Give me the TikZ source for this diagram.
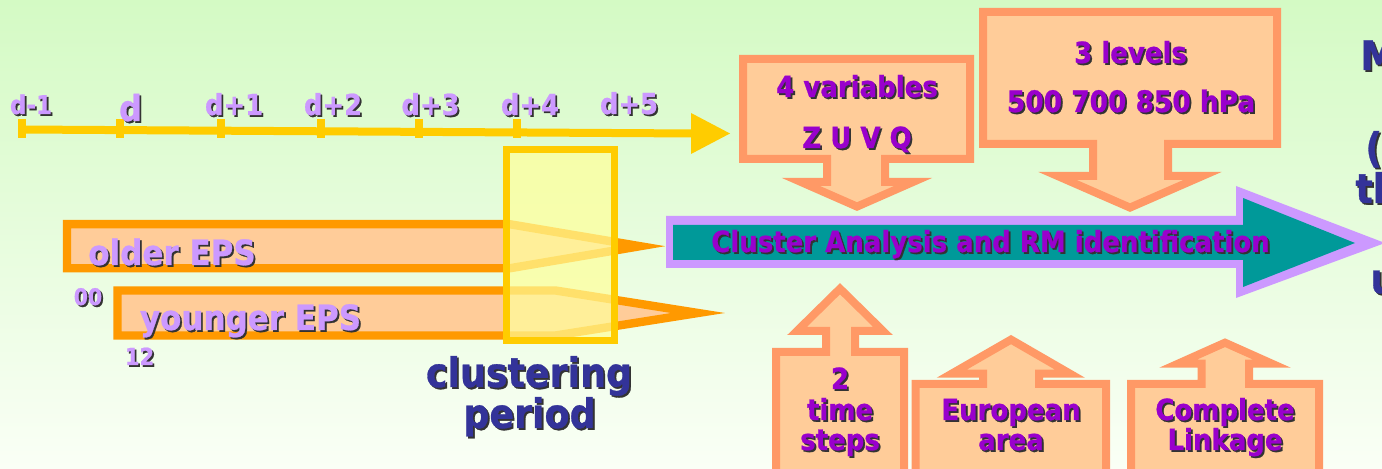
\documentclass[tikz,border=0pt]{standalone}
\usepackage{fontspec}
\setmainfont{DejaVu Sans}[BoldFeatures={FakeBold=0.8}]
\definecolor{bgtop}{RGB}{212,250,196}
\definecolor{bgbot}{RGB}{250,255,246}
\definecolor{tyellow}{HTML}{FFCC00}
\definecolor{eorange}{HTML}{FF9900}
\definecolor{peach}{HTML}{FFCC99}
\definecolor{salmon}{HTML}{FF9966}
\definecolor{lav}{HTML}{CC99FF}
\definecolor{teal2}{HTML}{009999}
\definecolor{purp}{HTML}{9900CC}
\definecolor{dblue}{HTML}{333399}
\definecolor{lyellow}{HTML}{FFFF99}
\newcommand\fsz[1]{\fontsize{#1pt}{#1pt}\selectfont\bfseries}
\newcommand\stext[7]{%
  \node[anchor=#6, inner sep=0pt, text=black!80, font=\fsz{#5}] at (#2+1.8,#3+1.8) {\scalebox{1}[1.12]{#7}};
  \node[anchor=#6, inner sep=0pt, text=#4, font=\fsz{#5}] (#1) at (#2,#3) {\scalebox{1}[1.12]{#7}};}
\begin{document}
\begin{tikzpicture}[x=0.5pt,y=-0.5pt,
  callout/.style={draw=salmon, fill=peach, line width=4pt, line join=miter},
  eps/.style={draw=eorange, fill=peach, line width=4.2pt, line join=miter},
  tick/.style={draw=tyellow, line width=3.8pt}]
\useasboundingbox (0,0) rectangle (1382,469);
\shade[top color=bgtop, bottom color=bgbot] (0,0) rectangle (1382,469);

% timeline
\draw[tyellow, line width=4pt] (19,129.5) -- (695,133.5);
\fill[tyellow] (691,113) -- (730,133.5) -- (691,154) -- cycle;
\foreach \x in {22,120,221,321,419,517} \draw[tick] (\x,119) -- (\x,138);

% EPS arrows
\draw[eps] (67,224.2) -- (509.6,224.2) -- (640,246.2) -- (509.6,268.3) -- (67,268.3) -- cycle;
\draw[eps] (117.5,290.5) -- (555.5,290.5) -- (698,313) -- (555.5,335.5) -- (117.5,335.5) -- cycle;

% clustering period window
\draw[draw=tyellow, line width=3.5pt, fill=lyellow, fill opacity=0.7] (506.5,150) rectangle (614,341);

% big arrow
\fill[lav] (666,216) -- (1236,216) -- (1236,186) -- (1385,243) -- (1236,298) -- (1236,268) -- (666,268) -- cycle;
\fill[teal2] (673,225) -- (1243,225) -- (1243,198) -- (1355,243) -- (1243,287) -- (1243,260) -- (673,260) -- cycle;

% down callouts
\draw[callout] (743,59) -- (970,59) -- (970,159) -- (885,159) -- (885,182) -- (913,182) -- (857,206.6) -- (801,182) -- (827,182) -- (827,159) -- (743,159) -- cycle;
\draw[callout] (983,12) -- (1277,12) -- (1277,144) -- (1168,144) -- (1168,176) -- (1202.4,176) -- (1130,207.6) -- (1057.6,176) -- (1093,176) -- (1093,144) -- (983,144) -- cycle;

% up callouts
\draw[callout] (776,480) -- (776,352) -- (826,352) -- (826,331) -- (797,331) -- (840,288.7) -- (883,331) -- (855,331) -- (855,352) -- (904,352) -- (904,480) -- cycle;
\draw[callout] (915.7,480) -- (915.7,384) -- (983,384) -- (983,373.7) -- (951.7,373.7) -- (1011,339.6) -- (1070,373.7) -- (1039,373.7) -- (1039,384) -- (1106,384) -- (1106,480) -- cycle;
\draw[callout] (1131,480) -- (1131,384) -- (1201.5,384) -- (1201.5,363.7) -- (1178,363.7) -- (1225,342.7) -- (1272,363.7) -- (1249,363.7) -- (1249,384) -- (1319,384) -- (1319,480) -- cycle;

% texts
\stext{t0}{31}{114}{lav}{11.5}{base}{d-1}
\stext{t1}{130.5}{121}{lav}{16}{base}{d}
\stext{t2}{234}{115}{lav}{12.9}{base}{d+1}
\stext{t3}{333}{115}{lav}{12.9}{base}{d+2}
\stext{t4}{430.5}{115}{lav}{12.9}{base}{d+3}
\stext{t5}{530}{115}{lav}{12.9}{base}{d+4}
\stext{t6}{629}{114}{lav}{12.9}{base}{d+5}
\stext{older}{172}{265}{lav}{15.5}{base}{older EPS}
\stext{younger}{250.5}{330}{lav}{15.5}{base}{younger EPS}
\stext{h00}{88}{305}{lav}{10.2}{base}{00}
\stext{h12}{139.5}{365}{lav}{10.5}{base}{12}
\stext{clu}{529}{387}{dblue}{18.2}{base}{clustering}
\stext{per}{529.5}{428}{dblue}{18.2}{base}{period}
\stext{var}{857}{97}{purp}{13}{base}{4 variables}
\stext{zuvq}{857}{148}{purp}{13}{base}{Z U V Q}
\stext{lev}{1130.5}{63}{purp}{13}{base}{3 levels}
\stext{hpa}{1131}{112}{purp}{13.2}{base}{500 700 850 hPa}
\stext{ca}{990.5}{252}{purp}{13}{base}{Cluster Analysis and RM identification}
\stext{two}{840}{389}{purp}{13}{base}{2}
\stext{time}{840}{420}{purp}{13}{base}{time}
\stext{steps}{840}{450}{purp}{13}{base}{steps}
\stext{eur}{1011}{420}{purp}{13}{base}{European}
\stext{area}{1011}{450}{purp}{13}{base}{area}
\stext{comp}{1225}{420}{purp}{13}{base}{Complete}
\stext{link}{1225}{450}{purp}{13}{base}{Linkage}
\stext{rM}{1360}{70}{dblue}{18.2}{base west}{M}
\stext{rp}{1365}{162}{dblue}{18.2}{base west}{(}
\stext{rth}{1355}{203}{dblue}{18.2}{base west}{th}
\stext{ru}{1370}{293}{dblue}{18.2}{base west}{u}
\end{tikzpicture}
\end{document}
